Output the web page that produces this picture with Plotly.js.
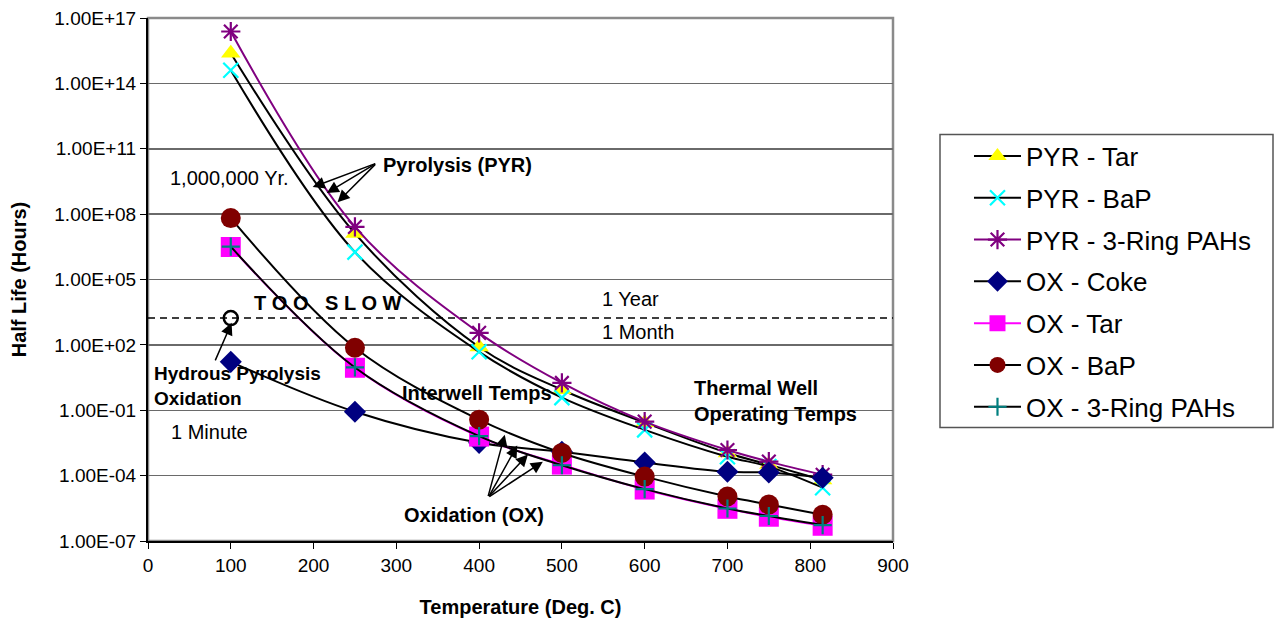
<!DOCTYPE html>
<html>
<head>
<meta charset="utf-8">
<script src="https://cdn.plot.ly/plotly-3.0.1.min.js"></script>
<style>
html,body{margin:0;padding:0;background:#fff;}
#chart{width:1275px;height:623px;}
</style>
</head>
<body>
<div id="chart"></div>
<script>
// Temperatures (Deg. C)
const temps = [100, 250, 400, 500, 600, 700, 750, 815];

// Half lives (hours)
const pyrTar    = [2.4e15, 1.3e7, 80, 0.87, 0.027, 1.1e-3, 3.2e-4, 6.3e-5];
const pyrBaP    = [4e14, 1.8e6, 48, 0.38, 0.0126, 7.4e-4, 2.6e-4, 2.8e-5];
const pyr3Ring  = [2.4e16, 2.6e7, 355, 1.8, 0.030, 1.5e-3, 4.4e-4, 1.1e-4];
const oxCoke    = [16.6, 0.085, 3.2e-3, 1.25e-3, 4e-4, 1.5e-4, 1.4e-4, 8e-5];
const oxTar     = [3.1e6, 8.9, 6.2e-3, 3.2e-4, 2.3e-5, 3e-6, 1.3e-6, 5e-7];
const oxBaP     = [6.6e7, 74, 0.037, 1.1e-3, 9e-5, 1.1e-5, 4.7e-6, 1.6e-6];
const ox3Ring   = [3.2e6, 9.2, 6.5e-3, 3.0e-4, 2.4e-5, 3.1e-6, 1.4e-6, 5.4e-7];

// Hydrous pyrolysis oxidation point and "too slow" threshold level
const hydrousX = [100];
const hydrousY = [1700];
const slowLevelX = [0, 900];
const slowLevelY = [1700, 1700];

// Axis ticks
const yTickVals = [1e-7, 1e-4, 1e-1, 1e2, 1e5, 1e8, 1e11, 1e14, 1e17];
const yTickText = ["1.00E-07", "1.00E-04", "1.00E-01", "1.00E+02", "1.00E+05", "1.00E+08", "1.00E+11", "1.00E+14", "1.00E+17"];

const FONT = "Liberation Sans, Arial, sans-serif";

function series(name, y, lineColor, symbol, mColor, size, thin, group) {
  const marker = {symbol: symbol, size: size, color: mColor};
  if (thin) { marker.line = {color: mColor, width: 2.2}; }
  else { marker.line = {width: 0}; }
  return {
    x: temps, y: y, name: name, type: "scatter", mode: "lines+markers",
    line: {color: lineColor, width: 2, shape: "spline", smoothing: 1},
    marker: marker, legendgroup: group
  };
}

const traces = [
  {x: slowLevelX, y: slowLevelY, mode: "lines", type: "scatter", showlegend: false,
   line: {color: "#000", width: 1.5, dash: "7px,5px"}, hoverinfo: "skip"},
  series("PYR - Tar", pyrTar, "#000000", "triangle-up", "#FFFF00", 17, false, "g1"),
  series("PYR - BaP", pyrBaP, "#000000", "x-thin-open", "#00FFFF", 15, true, "g2"),
  series("PYR - 3-Ring PAHs", pyr3Ring, "#800080", "asterisk-open", "#800080", 16, true, "g3"),
  series("OX - Coke", oxCoke, "#000000", "diamond", "#000080", 17, false, "g4"),
  series("OX - Tar", oxTar, "#FF00FF", "square", "#FF00FF", 20, false, "g5"),
  series("OX - BaP", oxBaP, "#000000", "circle", "#800000", 20, false, "g6"),
  series("OX - 3-Ring PAHs", ox3Ring, "#000000", "cross-thin-open", "#008080", 13, true, "g7"),
  {x: hydrousX, y: hydrousY, mode: "markers", type: "scatter", showlegend: false,
   marker: {symbol: "circle-open", size: 14, color: "#000", line: {color: "#000", width: 2.5}}}
];

function txt(text, x, y, bold, opts) {
  const a = Object.assign({
    text: bold ? "<b>" + text + "</b>" : text,
    x: x, y: y, xref: "x", yref: "y", showarrow: false,
    font: {family: FONT, size: 20, color: "#000"}
  }, opts || {});
  return a;
}
function arrow(x, y, ax, ay) {
  return {text: "", x: x, y: y, xref: "x", yref: "y", ax: ax, ay: ay,
          showarrow: true, arrowhead: 2, arrowsize: 1.6, arrowwidth: 1.5, arrowcolor: "#000", standoff: 0};
}

const annotations = [
  txt("1,000,000 Yr.", 99, 9.65, false),
  txt("Pyrolysis (PYR)", 374, 10.24, true),
  txt("T O O &nbsp; S L O W", 217, 3.93, true, {font: {family: FONT, size: 20, color: "#000"}}),
  txt("1 Year", 583, 4.11, false),
  txt("1 Month", 592, 2.6, false),
  txt("Hydrous Pyrolysis<br>Oxidation", 5, 0.12, true, {xanchor: "left", align: "left", font: {family: FONT, size: 19, color: "#000"}}),
  txt("1 Minute", 74, -1.98, false),
  txt("Interwell Temps", 397, -0.2, true),
  txt("Thermal Well<br>Operating Temps", 657, -0.56, true, {xanchor: "left", align: "left"}),
  txt("Oxidation (OX)", 394, -5.79, true),
  arrow(199, 9.24, 64, -24),
  arrow(216, 8.97, 50, -30),
  arrow(229, 8.55, 39, -39),
  arrow(431, -2.12, -17, 63),
  arrow(446, -2.62, -29, 52),
  arrow(459, -3.03, -40, 43),
  arrow(477, -3.36, -55, 36),
  arrow(101, 3.01, -17, 39)
];

const layout = {
  width: 1275, height: 623,
  margin: {l: 148, r: 382, t: 18, b: 82},
  paper_bgcolor: "#fff", plot_bgcolor: "#fff",
  font: {family: FONT, size: 19, color: "#000"},
  showlegend: true,
  legend: {
    x: 1.102, y: 0.781, xanchor: "left", yanchor: "top",
    font: {family: FONT, size: 26, color: "#000"},
    bgcolor: "rgba(0,0,0,0)", borderwidth: 0,
    tracegroupgap: 5, itemwidth: 47
  },
  xaxis: {
    range: [0, 900], dtick: 100, tick0: 0, showgrid: false, zeroline: false,
    ticks: "outside", ticklen: 6, tickcolor: "#000", tickwidth: 1,
    showline: true, linecolor: "#000", linewidth: 2,
    tickfont: {family: FONT, size: 19, color: "#000"},
    title: {text: "<b>Temperature (Deg. C)</b>", font: {family: FONT, size: 20, color: "#000"}, standoff: 25}
  },
  yaxis: {
    type: "log", range: [-7, 17], tickvals: yTickVals, ticktext: yTickText,
    showgrid: true, gridcolor: "#6a6a6a", gridwidth: 1.5, zeroline: false,
    ticks: "outside", ticklen: 6, tickcolor: "#000", tickwidth: 1,
    showline: true, linecolor: "#000", linewidth: 2,
    tickfont: {family: FONT, size: 19, color: "#000"},
    title: {text: "<b>Half Life (Hours)</b>", font: {family: FONT, size: 20, color: "#000"}, standoff: 22}
  },
  shapes: [
    {type: "rect", xref: "paper", yref: "paper", x0: 0, x1: 1, y0: 0, y1: 1,
     line: {color: "#8a8a8a", width: 2.5}, layer: "below"},
    {type: "rect", xref: "paper", yref: "paper", x0: (940-148)/745, x1: (1273-148)/745,
     y0: (541.5-428)/523, y1: (541.5-135)/523, line: {color: "#555", width: 1.5}}
  ],
  annotations: annotations
};

Plotly.newPlot("chart", traces, layout, {displayModeBar: false, staticPlot: true});
</script>
</body>
</html>
